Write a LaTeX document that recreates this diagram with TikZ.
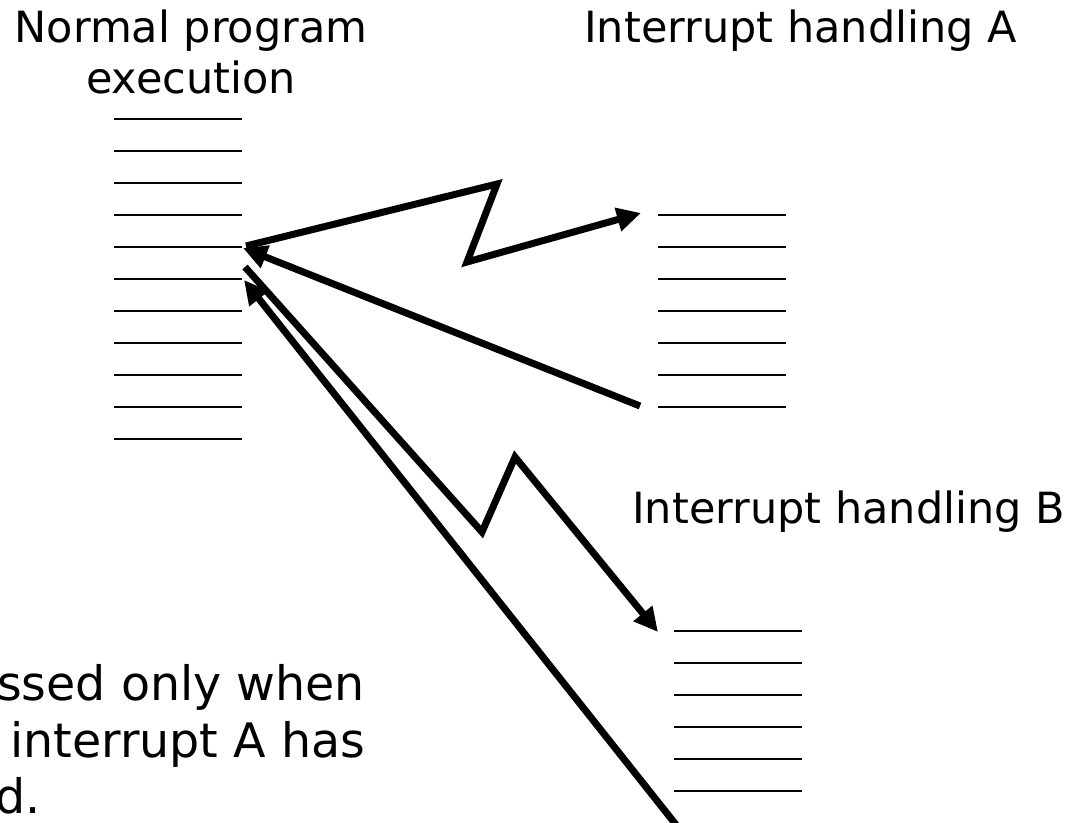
\documentclass[tikz,border=0pt]{standalone}
\usepackage{fontspec}
\setmainfont{DejaVu Sans}
\usetikzlibrary{arrows.meta}

\tikzset{
  codeline/.style={line width=1.7pt, black},
  flow/.style={line width=7pt, line join=miter, miter limit=4,
               -{Triangle[length=24pt,width=23pt]}},
  title/.style={inner sep=0pt, font=\fontsize{43}{51}\selectfont},
  note/.style={inner sep=0pt, font=\fontsize{47.5}{57}\selectfont}
}

\begin{document}
\begin{tikzpicture}[x=1pt, y=-1pt]
  \useasboundingbox (0,0) rectangle (1071,822);

  % instruction lists
  \foreach \i in {0,...,10} \draw[codeline] (114,119+32*\i) -- (242,119+32*\i);
  \foreach \i in {0,...,6}  \draw[codeline] (658,215+32*\i) -- (786,215+32*\i);
  \foreach \i in {0,...,5}  \draw[codeline] (674,631+32*\i) -- (802,631+32*\i);

  % headings
  \node[title, align=center, anchor=base] (main) at (191,93) {Normal program\\execution};
  \node[title, anchor=base west] (hA) at (584,42) {Interrupt handling A};
  \node[title, anchor=base west] (hB) at (632,523) {Interrupt handling B};

  % note text
  \node[note, anchor=base west] (n1) at (-3,700) {ssed only when};
  \node[note, anchor=base west] (n2) at (10,757) {interrupt A has};
  \node[note, anchor=base west] (n3) at (-5,813) {d.};

  % connection points
  \coordinate (mOut)  at (246,246);
  \coordinate (mRetA) at (243,248);
  \coordinate (mOutB) at (245,267);
  \coordinate (mRetB) at (244,280);
  \coordinate (aIn)   at (641,213);
  \coordinate (aOut)  at (640,406);
  \coordinate (bIn)   at (658,632);
  \coordinate (bOut)  at (677,826);
  \coordinate (zA1)   at (497,184);
  \coordinate (zA2)   at (467,262);
  \coordinate (zB1)   at (482,532);
  \coordinate (zB2)   at (515,457);

  % interrupt A: jump and return
  \draw[flow] (mOut) -- (zA1) -- (zA2) -- (aIn);
  \draw[flow] (aOut) -- (mRetA);

  % interrupt B: jump and return
  \draw[flow] (mOutB) -- (zB1) -- (zB2) -- (bIn);
  \draw[flow] (bOut) -- (mRetB);
\end{tikzpicture}
\end{document}
